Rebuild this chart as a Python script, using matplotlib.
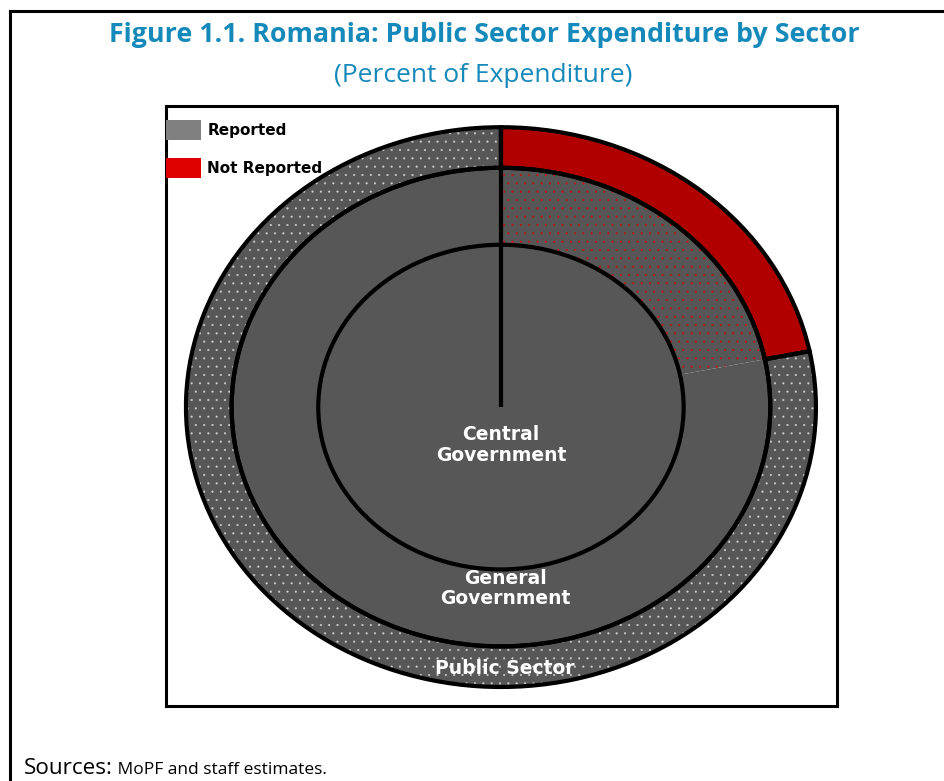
import numpy as np
import matplotlib.pyplot as plt
from matplotlib.lines import Line2D
from matplotlib.patches import Patch
from matplotlib.transforms import IdentityTransform

# share of public sector expenditure (percent)
not_reported = 21.8
reported = 100 - not_reported
public_sector = [not_reported, reported]
general_government = [not_reported, reported]
central_government = [100]

ring_labels = ['Central\nGovernment', 'General\nGovernment', 'Public Sector']
legend_labels = ['Reported', 'Not Reported']

title = 'Figure 1.1. Romania: Public Sector Expenditure by Sector'
subtitle = '(Percent of Expenditure)'
source_head = 'Sources:'
source_body = ' MoPF and staff estimates.'

grey = '#575757'
red = '#b00000'
blue = '#1589ba'

r_outer, r_mid, r_inner = 1.0, 0.855, 0.58
start = 90
lw = 3

plt.rcParams['hatch.linewidth'] = 0.3

fig = plt.figure(figsize=(9.44, 7.81), dpi=100)
ax = fig.add_axes([0.1758, 0.096, 0.7108, 0.768])

common = dict(startangle=start, counterclock=False, frame=True)

# ring fills
ax.pie(public_sector, radius=r_outer, colors=[red, grey],
       wedgeprops=dict(width=r_outer - r_mid, linewidth=0), **common)
ax.pie(general_government, radius=r_mid, colors=[grey, grey],
       wedgeprops=dict(width=r_mid - r_inner, linewidth=0), **common)
ax.pie(central_government, radius=r_inner, colors=[grey],
       wedgeprops=dict(linewidth=0), **common)

# dotted overlays: white on the reported public sector, red under the unreported part
dots_out, _ = ax.pie(public_sector, radius=r_outer, colors=['none', 'none'],
                     wedgeprops=dict(width=r_outer - r_mid, linewidth=0), **common)
dots_out[0].set_visible(False)
dots_out[1].set_hatch('..')
dots_out[1].set_edgecolor('#d0d0d0')

dots_mid, _ = ax.pie(general_government, radius=r_mid, colors=['none', 'none'],
                     wedgeprops=dict(width=r_mid - r_inner, linewidth=0), **common)
dots_mid[1].set_visible(False)
dots_mid[0].set_hatch('..')
dots_mid[0].set_edgecolor('#c81010')

# outlines
ax.pie(public_sector, radius=r_outer, colors=['none', 'none'],
       wedgeprops=dict(width=r_outer - r_mid, edgecolor='black', linewidth=lw), **common)
ax.pie([100], radius=r_mid, colors=['none'],
       wedgeprops=dict(edgecolor='black', linewidth=lw), **common)
ax.pie(central_government, radius=r_inner, colors=['none'],
       wedgeprops=dict(edgecolor='black', linewidth=lw), **common)
ang = np.deg2rad(start)
ax.plot([0, r_outer * np.cos(ang)], [0, r_outer * np.sin(ang)], color='black',
        lw=lw, solid_capstyle='butt')

ax.set_aspect('auto')
ax.set_xlim(-1.0635, 1.0667)
ax.set_ylim(-1.068, 1.075)
ax.set_xticks([])
ax.set_yticks([])
for s in ax.spines.values():
    s.set_linewidth(2.2)
    s.set_color('black')

# ring names
label_pos = [(0.0, -0.135), (0.013, -0.648), (0.013, -0.935)]
for txt, (lx, ly) in zip(ring_labels, label_pos):
    ax.text(lx, ly, txt, ha='center', va='center', color='white',
            fontsize=13.5, fontweight='bold', family='DejaVu Sans',
            linespacing=1.1)

handles = [Patch(facecolor='#808080', edgecolor='none'),
           Patch(facecolor='#e00000', edgecolor='none')]
leg = ax.legend(handles, legend_labels, loc='upper left',
                bbox_to_anchor=(0.0, 1 - 14 / 600), frameon=False,
                borderpad=0, borderaxespad=0, handlelength=2.3,
                handleheight=1.6, labelspacing=1.2, handletextpad=0.4,
                prop=dict(family='DejaVu Sans', weight='bold', size=11))

# page frame
fig.add_artist(Line2D([10 / 944, 1.0], [1 - 11 / 781, 1 - 11 / 781],
                      transform=fig.transFigure, color='black', lw=2.2))
fig.add_artist(Line2D([10 / 944, 10 / 944], [0.0, 1 - 11 / 781],
                      transform=fig.transFigure, color='black', lw=2.2))

fig.text(0.513, 0.955, title, ha='center', va='center', color=blue,
         fontsize=19.3, fontweight='bold', family='Open Sans')
fig.text(0.512, 0.903, subtitle, ha='center', va='center', color=blue,
         fontsize=19, family='Open Sans')

base_y = 7
head = fig.text(24, base_y, source_head, ha='left', va='baseline',
                fontsize=16.2, family='Open Sans', transform=IdentityTransform())
fig.canvas.draw()
bb = head.get_window_extent()
fig.text(bb.x1, base_y, source_body, ha='left', va='baseline', fontsize=12.5,
         family='Open Sans', transform=IdentityTransform())

fig.savefig('out.png', dpi=100)
